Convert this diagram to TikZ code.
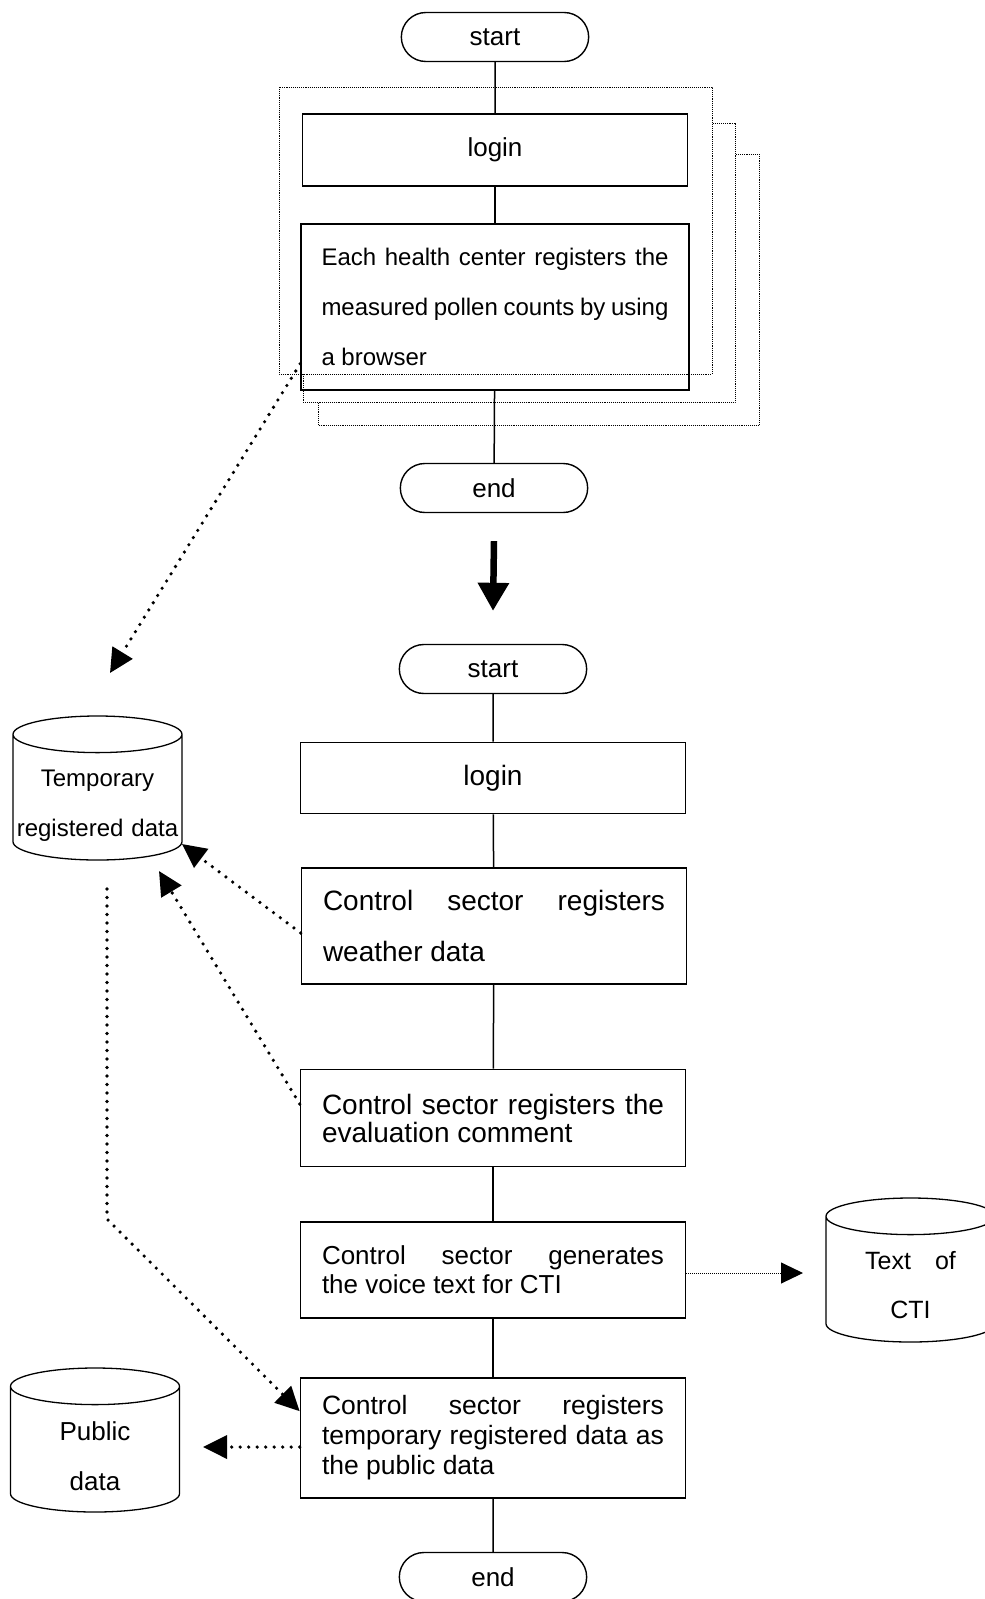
\documentclass[tikz,border=0pt]{standalone}
\usepackage{fontspec}
\setmainfont{Liberation Sans}
\usetikzlibrary{shapes.misc,shapes.geometric,arrows.meta}

\tikzset{
  term/.style={draw,rounded rectangle,line width=1.4pt,minimum width=194pt,minimum height=49pt,font=\fontsize{26}{30}\selectfont},
  proc/.style={draw,rectangle,line width=1.6pt,inner xsep=21.5pt,text width=342pt,align=justify},
  dbase/.style={draw,cylinder,shape border rotate=90,aspect=0.3,inner xsep=1pt,inner ysep=1pt,line width=1.3pt,minimum width=169pt,minimum height=144pt,text width=120pt,align=center},
  page/.style={draw,fill=white,line width=0.9pt,densely dotted},
  flow/.style={line width=1.5pt},
  dots/.style={line width=3.6pt,dash pattern=on 0pt off 8.5pt,line cap=round,-{Triangle[length=24pt,width=23pt]}},
}

\begin{document}
\begin{tikzpicture}[x=1pt,y=-1pt]
\useasboundingbox (0,0) rectangle (985,1599);
% upper flow: several health centers
\draw[page] (318,154) rectangle (759,425);
\draw[page] (303,123) rectangle (735,402);
\draw[page] (279,87) rectangle (712,374);
\node[term] (start1) at (495,37) {start};
\node[proc,minimum height=72pt,align=center,font=\fontsize{26}{30}\selectfont] (login1) at (495,150) {login};
\node[proc,minimum height=166pt,text width=347pt,inner xsep=20.5pt,font=\fontsize{24}{50}\selectfont] (health) at (495,307)
  {Each health center registers the\linebreak measured pollen counts by using\linebreak a browser};
\node[term] (end1) at (494,488) {end};
\draw[flow] (start1) -- (login1);
\draw[flow] (login1) -- (health);
\draw[flow] (health) -- (end1);

% lower flow: control sector
\node[term] (start2) at (493,669) {start};
\node[proc,minimum height=71pt,align=center,font=\fontsize{28}{30}\selectfont] (login2) at (493,778) {login};
\node[proc,minimum height=116pt,font=\fontsize{28}{51}\selectfont] (weather) at (494,926)
  {Control sector registers\linebreak weather data};
\node[proc,minimum height=97pt,font=\fontsize{28}{28}\selectfont] (eval) at (493,1118)
  {Control sector registers the\linebreak evaluation comment};
\node[proc,minimum height=96pt,font=\fontsize{26}{29}\selectfont] (voice) at (493,1270)
  {Control sector generates\linebreak the voice text for CTI};
\node[proc,minimum height=120pt,font=\fontsize{26.5}{30}\selectfont] (public) at (493,1438)
  {Control sector registers\linebreak temporary registered data as\linebreak the public data};
\node[term] (end2) at (493,1577) {end};
\foreach \a/\b in {start2/login2,login2/weather,weather/eval,eval/voice,voice/public,public/end2}
  \draw[flow] (\a) -- (\b);
\draw[line width=6.5pt,-{Triangle[length=28pt,width=30pt]}] ([yshift=-28pt]end1.south) -- ([yshift=33pt]start2.north);

% databases
\node[dbase,font=\fontsize{24}{50}\selectfont,text height=31pt,anchor=shape center] (tmp) at (97.5,788) {Temporary\\\makebox[120pt]{registered data}};
\node[dbase,font=\fontsize{26}{50}\selectfont,text height=29pt,anchor=shape center] (pub) at (95,1440) {Public\\data};
\node[dbase,font=\fontsize{25}{49}\selectfont,text height=26pt,anchor=shape center] (cti) at (910.5,1270) {Text\hspace{24pt}of\\CTI};

\coordinate (tin0) at (110,673);
\coordinate (tin1) at (182,844);
\coordinate (tin2) at (159,871);
\coordinate (tout) at (107,889);
\coordinate (tbend) at (107,1219);
\coordinate (pubin) at (203,1447);
\coordinate (ctiin) at (803,1273);
\draw[dots] ([yshift=27pt]health.south west) -- (tin0);
\draw[dots] ([yshift=-7pt]weather.west) -- (tin1);
\draw[dots] ([yshift=14pt]eval.west) -- (tin2);
\draw[dots] (tout) -- (tbend) -- ([yshift=-34pt]public.north west);
\draw[dots] (public.west |- pubin) -- (pubin);
\draw[line width=1pt,densely dotted,-{Triangle[length=22pt,width=21pt]}] ([yshift=-3pt]voice.east) -- (ctiin);
\end{tikzpicture}
\end{document}
